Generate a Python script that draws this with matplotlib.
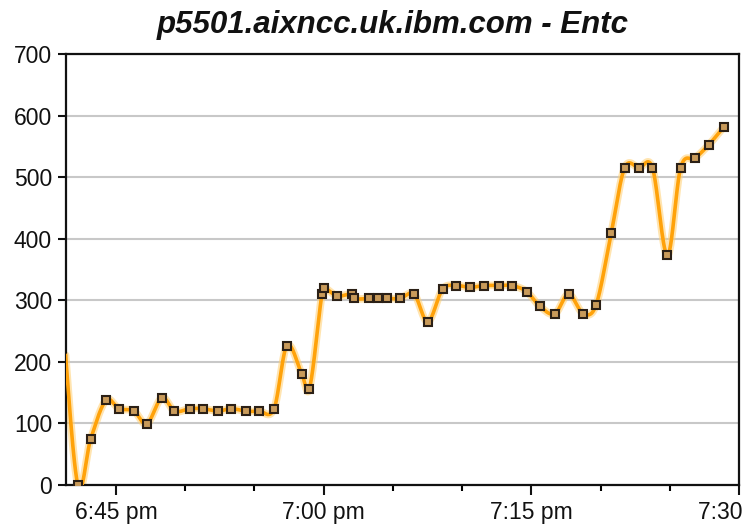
import numpy as np
import pandas as pd
import matplotlib
matplotlib.use("Agg")
import matplotlib.pyplot as plt
import matplotlib.dates as mdates
from matplotlib.ticker import FuncFormatter

# Sample times and Entc readings
times = [
    "18:41:02", "18:42:14", "18:43:10", "18:44:17", "18:45:12", "18:46:18",
    "18:47:13", "18:48:19", "18:49:13", "18:50:21", "18:51:16", "18:52:23",
    "18:53:18", "18:54:23", "18:55:19", "18:56:25", "18:57:20", "18:58:26",
    "18:58:58", "18:59:52", "19:00:01", "19:00:57", "19:02:03", "19:02:13",
    "19:03:18", "19:03:54", "19:04:33", "19:05:30", "19:06:32", "19:07:31",
    "19:08:35", "19:09:33", "19:10:36", "19:11:34", "19:12:40", "19:13:35",
    "19:14:40", "19:15:37", "19:16:42", "19:17:41", "19:18:46", "19:19:41",
    "19:20:46", "19:21:44", "19:22:47", "19:23:45", "19:24:50", "19:25:47",
    "19:26:50", "19:27:50", "19:28:53",
]
entc = [
    300, 0, 75, 138, 124, 120,
    99, 142, 120, 124, 124, 120,
    124, 120, 120, 124, 226, 180,
    156, 310, 320, 307, 310, 303,
    303, 303, 303, 303, 310, 265,
    318, 324, 321, 324, 324, 324,
    314, 290, 278, 310, 278, 293,
    409, 515, 515, 515, 373, 515,
    531, 553, 581,
]
title = "p5501.aixncc.uk.ibm.com - Entc"
y_ticks = [0, 100, 200, 300, 400, 500, 600, 700]
x_start, x_end = "18:41:23", "19:30:00"

day = "2008-01-01 "
t = pd.to_datetime([day + s for s in times])
xnum = mdates.date2num(t.to_pydatetime())
y = np.array(entc, dtype=float)

# Cardinal (Catmull-Rom style) Hermite spline through the samples
xm = (xnum - xnum[0]) * 1440.0
n = len(xm)
m = np.zeros(n)
m[0] = (y[1] - y[0]) / (xm[1] - xm[0])
m[-1] = (y[-1] - y[-2]) / (xm[-1] - xm[-2])
for i in range(1, n - 1):
    m[i] = (y[i + 1] - y[i - 1]) / (xm[i + 1] - xm[i - 1])
xs, ys = [], []
for i in range(n - 1):
    h = xm[i + 1] - xm[i]
    s = np.linspace(0, 1, 30, endpoint=(i == n - 2))
    h00 = 2 * s**3 - 3 * s**2 + 1
    h10 = s**3 - 2 * s**2 + s
    h01 = -2 * s**3 + 3 * s**2
    h11 = s**3 - s**2
    xs.append(xm[i] + s * h)
    ys.append(h00 * y[i] + h10 * h * m[i] + h01 * y[i + 1] + h11 * h * m[i + 1])
xs = xnum[0] + np.concatenate(xs) / 1440.0
ys = np.concatenate(ys)

plt.rcParams["font.family"] = ["Liberation Sans", "DejaVu Sans"]

fig = plt.figure(figsize=(7.45, 5.24), dpi=100)
W, H = 745.0, 524.0
ax = fig.add_axes([66 / W, (H - 485) / H, (739 - 66) / W, (485 - 54) / H])

ax.set_ylim(0, 700)
ax.set_xlim(mdates.date2num(pd.Timestamp(day + x_start).to_pydatetime()),
            mdates.date2num(pd.Timestamp(day + x_end).to_pydatetime()))

ax.set_yticks(y_ticks)
ax.yaxis.grid(True, color="#c8c8c8", linewidth=1.5)
ax.set_axisbelow(True)

ax.xaxis.set_major_locator(mdates.MinuteLocator(byminute=[0, 15, 30, 45]))
ax.xaxis.set_minor_locator(mdates.MinuteLocator(byminute=range(0, 60, 5)))


def fmt_time(v, pos=None):
    d = mdates.num2date(v)
    hr = d.hour % 12 or 12
    return f"{hr}:{d.minute:02d} {'pm' if d.hour >= 12 else 'am'}"


ax.xaxis.set_major_formatter(FuncFormatter(fmt_time))

for sp in ax.spines.values():
    sp.set_linewidth(1.6)
    sp.set_color("#111111")

ax.tick_params(axis="y", which="major", length=6, width=1.5, pad=4,
               labelsize=16.5, colors="#111111")
ax.tick_params(axis="x", which="major", length=7.5, width=1.5, pad=4,
               labelsize=16.5, colors="#111111")
ax.tick_params(axis="x", which="minor", length=4.5, width=1.5)

# soft halo, core line, then square markers
ax.plot(xs, ys, color="#ffcf70", linewidth=5.5, alpha=0.55,
        solid_capstyle="round", zorder=2)
ax.plot(xs, ys, color="#ffa20a", linewidth=2.6, solid_capstyle="round", zorder=3)
ax.plot(xnum, y, linestyle="none", marker="s", markersize=6.2,
        markerfacecolor="#c99b5a", markeredgecolor="#2b2016",
        markeredgewidth=1.5, zorder=4)

fig.text(393 / W, 1 - 33 / H, title, ha="center", va="baseline",
         fontsize=22.5, fontweight="bold", fontstyle="italic", color="#111111")

fig.savefig("out.png", dpi=100)
